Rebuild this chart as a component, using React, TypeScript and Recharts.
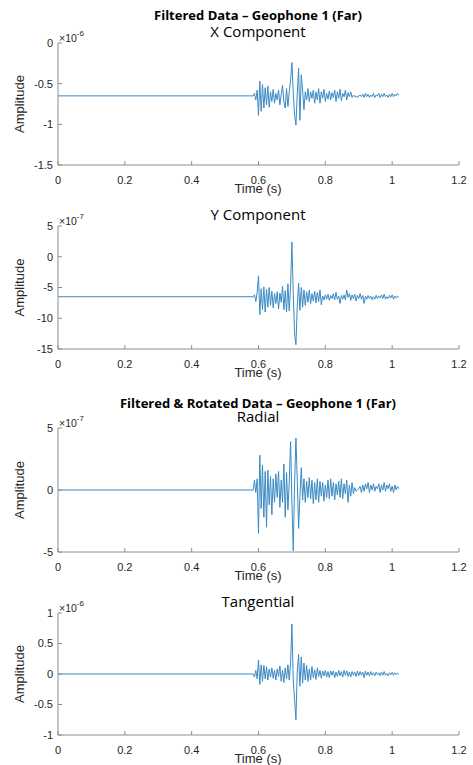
import React from 'react';
import { LineChart, Line, XAxis, YAxis } from 'recharts';

// Sample times (s): quiet pre-event baseline from 0, then the recorded window
const time = [
  0,
  0.584, 0.588, 0.592, 0.596, 0.600, 0.604, 0.608, 0.612, 0.616, 0.620,
  0.624, 0.628, 0.632, 0.636, 0.640, 0.644, 0.648, 0.652, 0.656, 0.660,
  0.664, 0.668, 0.672, 0.676, 0.680, 0.684, 0.688, 0.692, 0.696, 0.700,
  0.704, 0.708, 0.712, 0.716, 0.720, 0.724, 0.728, 0.732, 0.736, 0.740,
  0.744, 0.748, 0.752, 0.756, 0.760, 0.764, 0.768, 0.772, 0.776, 0.780,
  0.784, 0.788, 0.792, 0.796, 0.800, 0.804, 0.808, 0.812, 0.816, 0.820,
  0.824, 0.828, 0.832, 0.836, 0.840, 0.844, 0.848, 0.852, 0.856, 0.860,
  0.864, 0.868, 0.872, 0.876, 0.880, 0.884, 0.888, 0.892, 0.896, 0.900,
  0.904, 0.908, 0.912, 0.916, 0.920, 0.924, 0.928, 0.932, 0.936, 0.940,
  0.944, 0.948, 0.952, 0.956, 0.960, 0.964, 0.968, 0.972, 0.976, 0.980,
  0.984, 0.988, 0.992, 0.996, 1.000, 1.004, 1.008, 1.012, 1.016, 1.020,
];

// X component amplitude (x 1e-6)
const xComponent = [
  -0.65,
  -0.65, -0.62, -0.70, -0.58, -0.89, -0.47, -0.84, -0.51, -0.80, -0.55,
  -0.76, -0.53, -0.79, -0.60, -0.72, -0.57, -0.74, -0.62, -0.70, -0.58,
  -0.76, -0.63, -0.52, -0.73, -0.80, -0.56, -0.78, -0.60, -0.45, -0.24,
  -0.62, -0.88, -1.01, -0.62, -0.31, -0.95, -0.39, -0.58, -0.82, -0.60,
  -0.70, -0.56, -0.72, -0.60, -0.68, -0.58, -0.74, -0.60, -0.70, -0.56,
  -0.74, -0.60, -0.68, -0.57, -0.72, -0.62, -0.69, -0.59, -0.70, -0.61,
  -0.67, -0.58, -0.72, -0.60, -0.68, -0.57, -0.71, -0.62, -0.66, -0.58,
  -0.70, -0.61, -0.66, -0.60, -0.67, -0.64, -0.66, -0.65, -0.67, -0.65,
  -0.64, -0.66, -0.63, -0.67, -0.62, -0.66, -0.63, -0.67, -0.64, -0.66,
  -0.62, -0.67, -0.64, -0.65, -0.62, -0.67, -0.63, -0.66, -0.62, -0.66,
  -0.64, -0.67, -0.63, -0.66, -0.62, -0.66, -0.63, -0.65, -0.62, -0.64,
];

// Y component amplitude (x 1e-7)
const yComponent = [
  -6.5,
  -6.5, -6.2, -7.3, -5.8, -3.1, -9.4, -5.2, -8.6, -4.9, -9.0,
  -5.3, -8.2, -5.0, -7.9, -5.6, -8.3, -6.0, -7.6, -5.7, -8.5,
  -5.9, -7.4, -4.8, -8.6, -5.5, -9.0, -4.4, -8.8, -4.6, 2.4,
  -6.0, -12.5, -14.3, -8.0, -4.3, -8.7, -5.0, -8.2, -5.4, -7.9,
  -5.7, -7.4, -5.4, -7.6, -6.0, -7.2, -5.6, -7.5, -5.8, -7.3,
  -5.4, -7.8, -6.4, -7.0, -6.2, -6.9, -6.1, -7.1, -6.3, -6.8,
  -6.0, -7.0, -5.8, -6.9, -6.4, -7.6, -6.3, -6.9, -6.2, -7.0,
  -5.4, -6.6, -6.0, -7.1, -6.2, -6.8, -6.1, -7.2, -6.3, -6.8,
  -6.0, -6.9, -6.3, -7.6, -6.4, -6.9, -6.3, -6.8, -6.4, -7.0,
  -6.5, -6.9, -6.3, -6.8, -6.4, -6.7, -6.2, -6.8, -6.1, -6.9,
  -6.5, -6.8, -6.3, -6.7, -6.2, -6.9, -6.4, -6.7, -6.4, -6.6,
];

// Radial amplitude (x 1e-7)
const radial = [
  0,
  0, 0.8, -0.2, 0.9, -3.5, 2.8, -1.5, 2.0, -2.2, 1.5,
  -3.0, 1.6, -1.2, 1.1, -2.0, 0.9, -1.0, 1.3, -0.6, 1.5,
  -1.4, 0.8, -1.0, 2.1, -2.2, 1.4, -1.6, 0.6, 3.9, -1.0,
  -4.9, 0.5, 4.2, 0.8, -3.1, -0.5, 1.8, -0.8, 0.9, -1.0,
  0.7, -0.6, 1.0, -0.7, 0.8, -1.1, 0.6, -0.8, 0.9, -1.0,
  0.7, -0.5, 0.6, -0.9, 0.4, -0.6, 0.8, -0.7, 0.9, -0.5,
  0.6, -0.8, 0.5, -0.4, 0.7, -0.6, 0.9, -0.7, 0.5, -0.3,
  0.8, -1.0, 0.4, -0.5, 0.6, -0.3, 0.2, -0.1, 0.0, 0.1,
  0.3, -0.2, 0.4, -0.1, 0.5, 0.1, 0.6, -0.2, 0.4, 0.0,
  0.5, -0.1, 0.3, 0.1, 0.5, -0.2, 0.4, 0.0, 0.6, -0.1,
  0.4, 0.1, 0.5, -0.1, 0.3, -0.2, 0.4, 0.0, 0.3, 0.1,
];

// Tangential amplitude (x 1e-6)
const tangential = [
  0,
  0, -0.05, 0.06, -0.08, 0.23, -0.17, 0.15, -0.12, 0.14, -0.08,
  0.12, -0.10, 0.08, -0.05, 0.10, -0.07, 0.06, -0.10, 0.08, -0.04,
  0.13, -0.12, 0.06, -0.14, 0.10, -0.08, 0.15, -0.10, 0.18, 0.82,
  -0.10, -0.42, -0.75, 0.05, 0.32, -0.20, 0.28, -0.15, 0.18, -0.10,
  0.14, -0.12, 0.08, -0.10, 0.12, -0.06, 0.07, -0.09, 0.10, -0.04,
  0.06, -0.07, 0.05, -0.03, 0.06, -0.05, 0.04, -0.06, 0.05, -0.02,
  0.05, -0.06, 0.03, -0.04, 0.06, -0.03, 0.04, -0.05, 0.06, -0.02,
  0.05, -0.04, 0.03, -0.05, 0.04, -0.02, 0.03, -0.04, 0.05, -0.03,
  0.04, -0.02, 0.03, -0.06, 0.05, -0.02, 0.03, -0.03, 0.04, -0.02,
  0.02, -0.03, 0.03, -0.01, 0.02, -0.03, 0.03, -0.02, 0.04, -0.02,
  0.01, -0.03, 0.02, -0.01, 0.03, -0.02, 0.02, -0.01, 0.01, 0.00,
];

const timeTicks = [0, 0.2, 0.4, 0.6, 0.8, 1, 1.2];
const xTicks = [0, -0.5, -1, -1.5];
const yTicks = [5, 0, -5, -10, -15];
const radialTicks = [5, 0, -5];
const tangentialTicks = [1, 0.5, 0, -0.5, -1];

const rows = time.map((t, i) => ({
  t,
  x: xComponent[i],
  y: yComponent[i],
  r: radial[i],
  tg: tangential[i],
}));

const W = 473;
const H = 765;
const AXIS = '#8e8e8e';
const TEXT = '#262626';
const LINE = '#3a8ac4';
const SANS = '"Liberation Sans", Arial, sans-serif';
const TITLE = '"Open Sans", "Noto Sans", sans-serif';
const PLOT_LEFT = 58;
const PLOT_RIGHT = 459;
const CX = 258;

const BottomTick = (p: any) => (
  <g>
    <line x1={p.x} x2={p.x} y1={p.y} y2={p.y - 4} stroke={AXIS} />
    <text x={p.x} y={p.y + 19} textAnchor="middle" fontSize={11} fontFamily={SANS} fill={TEXT}>
      {String(p.payload.value)}
    </text>
  </g>
);
const TopTick = (p: any) => <line x1={p.x} x2={p.x} y1={p.y} y2={p.y + 4} stroke={AXIS} />;
const LeftTick = (p: any) => (
  <g>
    <line x1={p.x} x2={p.x + 4} y1={p.y} y2={p.y} stroke={AXIS} />
    <text x={p.x - 5} y={p.y} dy="0.35em" textAnchor="end" fontSize={11} fontFamily={SANS} fill={TEXT}>
      {String(p.payload.value)}
    </text>
  </g>
);
const RightTick = (p: any) => <line x1={p.x} x2={p.x - 4} y1={p.y} y2={p.y} stroke={AXIS} />;

type PanelProps = {
  dataKey: string;
  domain: [number, number];
  ticks: number[];
  boxTop: number;
  boxBottom: number;
};

function Panel({ dataKey, domain, ticks, boxTop, boxBottom }: PanelProps) {
  const pad = 10;
  const axisH = 34;
  const boxH = boxBottom - boxTop;
  return (
    <div style={{ position: 'absolute', left: 0, top: boxTop - pad }}>
      <LineChart
        width={W}
        height={pad + boxH + axisH}
        data={rows}
        margin={{ top: pad, right: W - PLOT_RIGHT, bottom: 0, left: 0 }}
      >
        <XAxis
          xAxisId="bottom"
          type="number"
          dataKey="t"
          domain={[0, 1.2]}
          ticks={timeTicks}
          interval={0}
          tickSize={0}
          tickMargin={0}
          height={axisH}
          axisLine={{ stroke: AXIS }}
          tick={(p: any) => <BottomTick {...p} />}
        />
        <XAxis
          xAxisId="top"
          orientation="top"
          type="number"
          dataKey="t"
          domain={[0, 1.2]}
          ticks={timeTicks}
          interval={0}
          tickSize={0}
          tickMargin={0}
          height={0}
          axisLine={{ stroke: AXIS }}
          tick={(p: any) => <TopTick {...p} />}
        />
        <YAxis
          yAxisId="left"
          type="number"
          domain={domain}
          ticks={ticks}
          interval={0}
          tickSize={0}
          tickMargin={0}
          width={PLOT_LEFT}
          allowDataOverflow
          axisLine={{ stroke: AXIS }}
          tick={(p: any) => <LeftTick {...p} />}
        />
        <YAxis
          yAxisId="right"
          orientation="right"
          type="number"
          domain={domain}
          ticks={ticks}
          interval={0}
          tickSize={0}
          tickMargin={0}
          width={0}
          allowDataOverflow
          axisLine={{ stroke: AXIS }}
          tick={(p: any) => <RightTick {...p} />}
        />
        <Line
          xAxisId="bottom"
          yAxisId="left"
          type="linear"
          dataKey={dataKey}
          stroke={LINE}
          strokeWidth={1}
          dot={false}
          activeDot={false}
          isAnimationActive={false}
        />
      </LineChart>
    </div>
  );
}

const panels = [
  { key: 'x', domain: [-1.5, 0] as [number, number], ticks: xTicks, top: 43, bottom: 165, exp: '-6', sub: 'X Component' },
  { key: 'y', domain: [-15, 5] as [number, number], ticks: yTicks, top: 226, bottom: 349, exp: '-7', sub: 'Y Component' },
  { key: 'r', domain: [-5, 5] as [number, number], ticks: radialTicks, top: 428, bottom: 552, exp: '-7', sub: 'Radial' },
  { key: 'tg', domain: [-1, 1] as [number, number], ticks: tangentialTicks, top: 613, bottom: 735, exp: '-6', sub: 'Tangential' },
];

export default function App() {
  return (
    <div style={{ position: 'absolute', left: 0, top: 0, width: W, height: H, background: '#fff', overflow: 'hidden' }}>
      {panels.map((p) => (
        <Panel key={p.key} dataKey={p.key} domain={p.domain} ticks={p.ticks} boxTop={p.top} boxBottom={p.bottom} />
      ))}
      <svg width={W} height={H} style={{ position: 'absolute', left: 0, top: 0, pointerEvents: 'none' }}>
        <text x={CX} y={20} textAnchor="middle" fontSize={13} fontWeight="bold" fontFamily={TITLE} fill="#000">
          Filtered Data – Geophone 1 (Far)
        </text>
        <text x={CX} y={408} textAnchor="middle" fontSize={13} fontWeight="bold" fontFamily={TITLE} fill="#000">
          Filtered &amp; Rotated Data – Geophone 1 (Far)
        </text>
        {panels.map((p) => (
          <g key={p.key}>
            <text x={CX} y={p.top - 6} textAnchor="middle" fontSize={15} fontFamily={TITLE} fill="#000">
              {p.sub}
            </text>
            <text x={59} y={p.top - 1.5} fontSize={10.5} fontFamily={SANS} fill={TEXT}>
              ×10
              <tspan dy={-5.5} fontSize={8}>
                {p.exp}
              </tspan>
            </text>
            <text
              transform={`translate(19.5, ${(p.top + p.bottom) / 2}) rotate(-90)`}
              textAnchor="middle"
              dy="0.35em"
              fontSize={13}
              fontFamily={SANS}
              fill={TEXT}
            >
              Amplitude
            </text>
            <text x={CX} y={p.bottom + 28} textAnchor="middle" fontSize={13} fontFamily={SANS} fill={TEXT}>
              Time (s)
            </text>
          </g>
        ))}
      </svg>
    </div>
  );
}
